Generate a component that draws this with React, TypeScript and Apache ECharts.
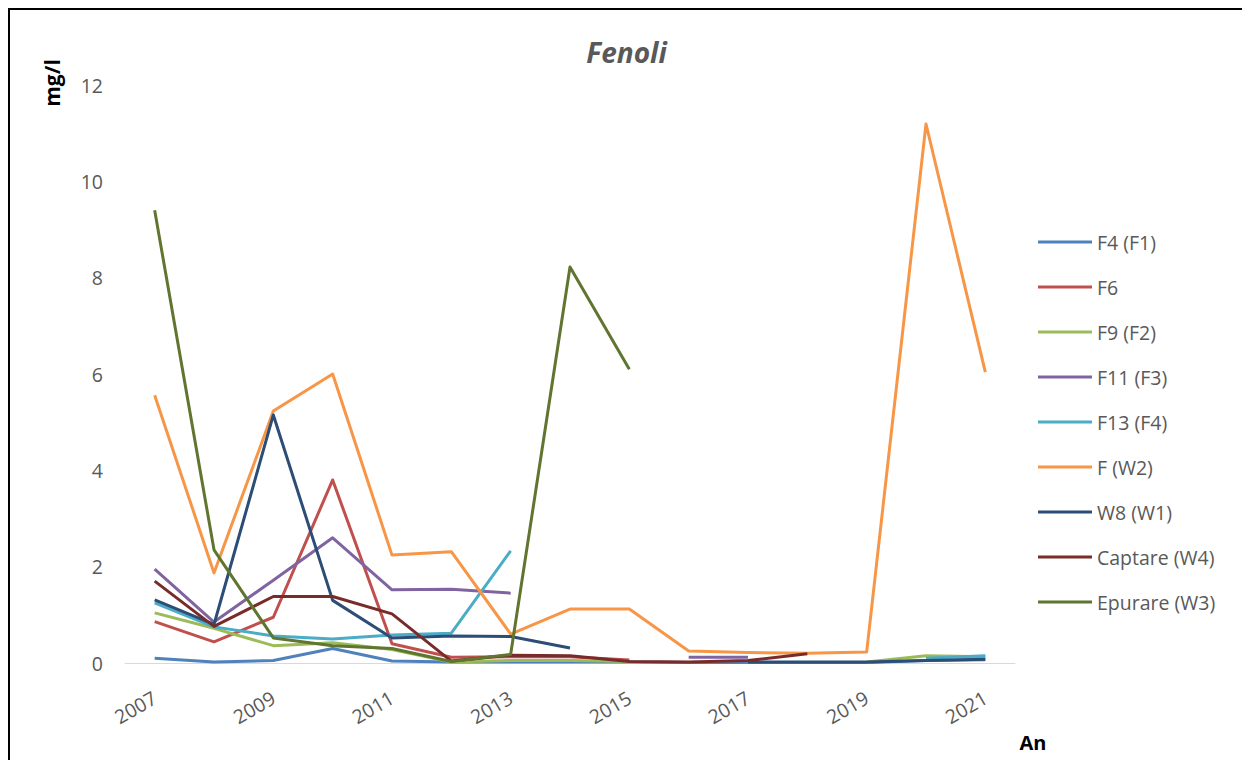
import React, { useEffect, useRef } from "react";
import * as echarts from "echarts";

// Years on the category axis
const years = [
  "2007", "2008", "2009", "2010", "2011", "2012", "2013", "2014",
  "2015", "2016", "2017", "2018", "2019", "2020", "2021",
];

// Phenol concentrations (mg/l) per monitoring point; null = no measurement
const f4F1 = [0.1, 0.02, 0.05, 0.3, 0.04, 0.02, 0.02, 0.02, 0.02, 0.01, 0.01, 0.01, 0.01, 0.05, 0.07];
const f6 = [0.86, 0.44, 0.95, 3.8, 0.4, 0.12, 0.13, 0.13, 0.06, null, null, null, null, null, null];
const f9F2 = [1.04, 0.72, 0.36, 0.42, 0.28, 0.02, 0.05, 0.05, 0.03, null, null, null, 0.02, 0.15, 0.13];
const f11F3 = [1.95, 0.85, 1.72, 2.6, 1.52, 1.53, 1.45, null, null, 0.12, 0.12, null, null, null, null];
const f13F4 = [1.25, 0.75, 0.56, 0.5, 0.58, 0.62, 2.33, null, null, null, null, null, null, 0.1, 0.15];
const fW2 = [5.56, 1.87, 5.23, 6.0, 2.24, 2.31, 0.6, 1.12, 1.12, 0.25, 0.22, 0.2, 0.23, 11.19, 6.04];
const w8W1 = [1.31, 0.8, 5.15, 1.3, 0.52, 0.56, 0.55, 0.31, null, null, 0.02, 0.02, 0.02, 0.05, 0.08];
const captareW4 = [1.7, 0.76, 1.38, 1.38, 1.02, 0.04, 0.16, 0.15, 0.03, 0.02, 0.05, 0.19, null, null, null];
const epurareW3 = [9.4, 2.35, 0.52, 0.36, 0.3, 0.03, 0.18, 8.22, 6.1, null, null, null, null, null, null];

const seriesNames = [
  "F4 (F1)", "F6", "F9 (F2)", "F11 (F3)", "F13 (F4)",
  "F (W2)", "W8 (W1)", "Captare (W4)", "Epurare (W3)",
];
const seriesData = [f4F1, f6, f9F2, f11F3, f13F4, fW2, w8W1, captareW4, epurareW3];
const seriesColors = [
  "#4F81BD", "#C0504D", "#9BBB59", "#8064A2", "#4BACC6",
  "#F79646", "#2C4D75", "#772C2A", "#5F7530",
];

const yTicks = { min: 0, max: 12, interval: 2 };

const FONT = "'Open Sans', 'Noto Sans', sans-serif";
const GREY = "#595959";

export default function App() {
  const ref = useRef<HTMLDivElement>(null);

  useEffect(() => {
    if (!ref.current) return;
    const chart = echarts.init(ref.current, null, { renderer: "svg" });
    chart.setOption({
      animation: false,
      backgroundColor: "#ffffff",
      textStyle: { fontFamily: FONT },
      title: {
        text: "Fenoli",
        left: "center",
        top: 23,
        textStyle: {
          fontFamily: FONT,
          fontSize: 28,
          fontStyle: "italic",
          fontWeight: "bold",
          color: GREY,
        },
      },
      grid: { left: 115, top: 75, width: 890, height: 578, containLabel: false },
      legend: {
        orient: "vertical",
        left: 1023,
        top: 217,
        icon: "rect",
        itemWidth: 54,
        itemHeight: 3,
        itemGap: 25,
        data: seriesNames,
        textStyle: { fontFamily: FONT, fontSize: 19.5, color: GREY, lineHeight: 20 },
      },
      xAxis: {
        type: "category",
        data: years,
        boundaryGap: true,
        axisLine: { show: true, lineStyle: { color: "#D9D9D9", width: 1 } },
        axisTick: { show: false },
        axisLabel: {
          interval: 1,
          rotate: 30,
          margin: 33,
          fontFamily: FONT,
          fontSize: 19.5,
          color: GREY,
        },
        splitLine: { show: false },
      },
      yAxis: {
        type: "value",
        min: yTicks.min,
        max: yTicks.max,
        interval: yTicks.interval,
        axisLine: { show: false },
        axisTick: { show: false },
        splitLine: { show: false },
        axisLabel: { margin: 22, fontFamily: FONT, fontSize: 19.5, color: GREY },
      },
      graphic: [
        {
          type: "text",
          x: 42,
          y: 73,
          rotation: Math.PI / 2,
          style: {
            text: "mg/l",
            fontFamily: FONT,
            fontSize: 21,
            fontWeight: "bold",
            fill: "#000000",
            align: "center",
            verticalAlign: "middle",
          },
        },
        {
          type: "text",
          x: 1023,
          y: 732,
          style: {
            text: "An",
            fontFamily: FONT,
            fontSize: 20,
            fontWeight: "bold",
            fill: "#000000",
            align: "center",
            verticalAlign: "middle",
          },
        },
      ],
      series: seriesNames.map((name, i) => ({
        name,
        type: "line",
        data: seriesData[i],
        symbol: "none",
        connectNulls: false,
        color: seriesColors[i],
        lineStyle: { width: 3, color: seriesColors[i], join: "round" },
      })),
    });
    return () => chart.dispose();
  }, []);

  return (
    <div
      style={{
        width: 1233,
        height: 750,
        borderLeft: "2px solid #000",
        borderTop: "2px solid #000",
        borderRight: "1px solid #d0d0d0",
        background: "#fff",
      }}
    >
      <div ref={ref} style={{ width: 1233, height: 750 }} />
    </div>
  );
}
